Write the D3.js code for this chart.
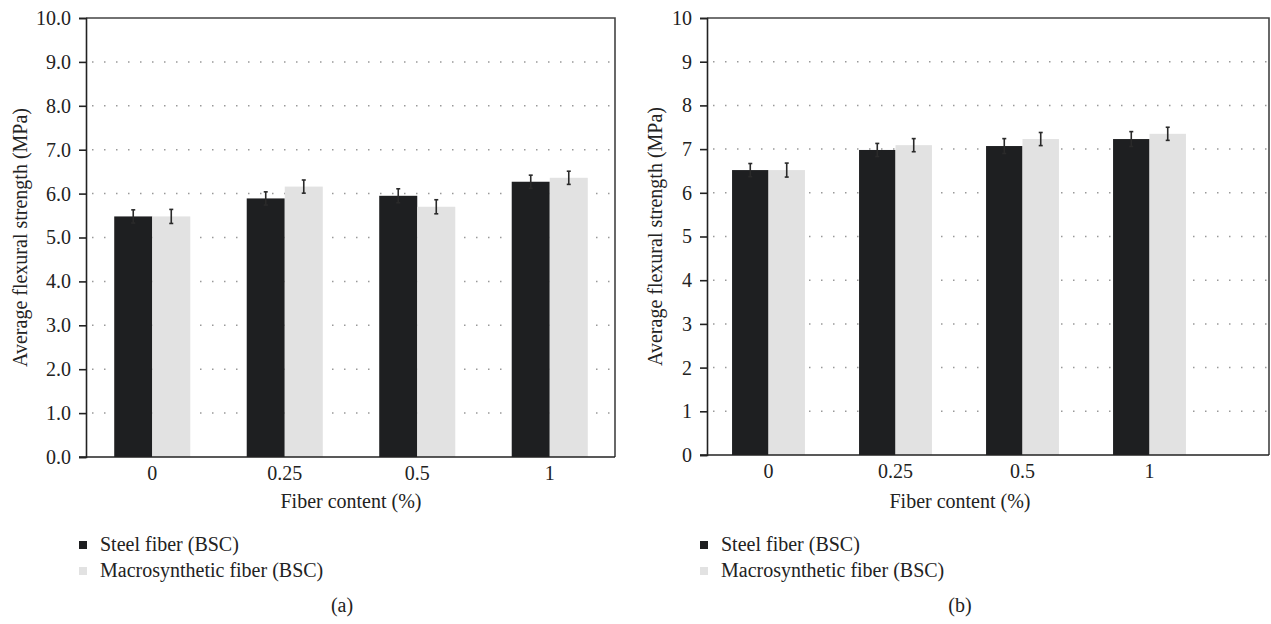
<!DOCTYPE html>
<html>
<head>
<meta charset="utf-8">
<script src="https://cdn.jsdelivr.net/npm/d3@7/dist/d3.min.js"></script>
<style>
  html, body { margin: 0; padding: 0; background: #fff; }
  svg text { font-family: "Liberation Serif", "DejaVu Serif", serif; fill: #222; }
</style>
</head>
<body>
<svg id="chart" width="1271" height="624"></svg>
<script>
// Fiber contents (%) on the x axis
const categories = ["0", "0.25", "0.5", "1"];
const seriesNames = ["Steel fiber (BSC)", "Macrosynthetic fiber (BSC)"];

// Panel (a): average flexural strength (MPa) and standard deviation
const steelA = [5.48, 5.89, 5.95, 6.27];
const steelErrA = [0.15, 0.15, 0.16, 0.15];
const macroA = [5.48, 6.16, 5.70, 6.36];
const macroErrA = [0.16, 0.15, 0.16, 0.15];
const yTicksA = ["0.0", "1.0", "2.0", "3.0", "4.0", "5.0", "6.0", "7.0", "8.0", "9.0", "10.0"];

// Panel (b): average flexural strength (MPa) and standard deviation
const steelB = [6.52, 6.98, 7.07, 7.23];
const steelErrB = [0.15, 0.15, 0.17, 0.17];
const macroB = [6.52, 7.09, 7.23, 7.35];
const macroErrB = [0.16, 0.15, 0.15, 0.15];
const yTicksB = ["0", "1", "2", "3", "4", "5", "6", "7", "8", "9", "10"];

const colors = ["#1e1f21", "#e2e2e2"];
const FS = 20;
const svg = d3.select("#chart");

function drawPanel(cfg) {
  const g = svg.append("g");
  const y = d3.scaleLinear().domain([0, 10]).range([cfg.bottom, cfg.top]);
  const x0 = d3.scaleBand().domain(categories)
    .range([cfg.bandLeft, cfg.bandRight]).paddingInner(0.426).paddingOuter(0.213);
  const x1 = d3.scaleBand().domain([0, 1]).range([0, x0.bandwidth()]);

  // dotted horizontal grid
  g.append("g").selectAll("line").data(d3.range(1, 10)).join("line")
    .attr("x1", cfg.left + 6).attr("x2", cfg.right)
    .attr("y1", d => y(d)).attr("y2", d => y(d))
    .attr("stroke", "#999").attr("stroke-width", 1.5)
    .attr("stroke-dasharray", "1.5,10.5");

  // bars
  const series = [cfg.steel, cfg.macro];
  const errs = [cfg.steelErr, cfg.macroErr];
  categories.forEach((c, i) => {
    series.forEach((s, k) => {
      g.append("rect")
        .attr("x", x0(c) + x1(k)).attr("width", x1.bandwidth())
        .attr("y", y(s[i])).attr("height", y(0) - y(s[i]))
        .attr("fill", colors[k]);
    });
  });
  // error bars
  categories.forEach((c, i) => {
    series.forEach((s, k) => {
      const cx = x0(c) + x1(k) + x1.bandwidth() / 2;
      const hi = y(s[i] + errs[k][i]), lo = y(s[i] - errs[k][i]);
      const eg = g.append("g").attr("stroke", "#2a2a2a").attr("stroke-width", 1.6);
      eg.append("line").attr("x1", cx).attr("x2", cx).attr("y1", hi).attr("y2", lo);
      eg.append("line").attr("x1", cx - 2).attr("x2", cx + 2).attr("y1", hi).attr("y2", hi);
      eg.append("line").attr("x1", cx - 2).attr("x2", cx + 2).attr("y1", lo).attr("y2", lo);
    });
  });

  // frame (top and right)
  g.append("path")
    .attr("d", `M${cfg.left},${cfg.top}H${cfg.right}V${cfg.bottom}`)
    .attr("fill", "none").attr("stroke", "#444").attr("stroke-width", 1.6);

  // y axis
  const yAxis = d3.axisLeft(y).tickValues(d3.range(0, 11))
    .tickFormat((d, i) => cfg.yTicks[i]).tickSize(7).tickPadding(8);
  const ya = g.append("g").attr("transform", `translate(${cfg.left},0)`).call(yAxis);
  ya.select(".domain").attr("stroke", "#222").attr("stroke-width", 1.6);
  ya.selectAll(".tick line").attr("stroke", "#222").attr("stroke-width", 1.6);
  ya.selectAll(".tick text").attr("font-size", FS).attr("fill", "#222")
    .style("font-family", '"Liberation Serif", serif');

  // x axis
  const xAxis = d3.axisBottom(x0).tickSize(0).tickPadding(9);
  const xa = g.append("g").attr("transform", `translate(0,${cfg.bottom})`).call(xAxis);
  xa.select(".domain").attr("d", `M${cfg.left - 7},0H${cfg.right}`)
    .attr("stroke", "#222").attr("stroke-width", 1.6);
  xa.selectAll(".tick text").attr("font-size", FS).attr("fill", "#222")
    .style("font-family", '"Liberation Serif", serif');

  // axis titles
  g.append("text")
    .attr("transform", `translate(${cfg.titleX},${(cfg.top + cfg.bottom) / 2}) rotate(-90)`)
    .attr("text-anchor", "middle").attr("dy", "0.35em").attr("font-size", FS)
    .text("Average flexural strength (MPa)");
  g.append("text")
    .attr("x", (cfg.left + cfg.bandRight) / 2).attr("y", 508)
    .attr("text-anchor", "middle").attr("font-size", FS)
    .text("Fiber content (%)");

  // legend
  const lg = g.append("g");
  seriesNames.forEach((name, k) => {
    const ly = 545 + k * 26;
    lg.append("rect").attr("x", cfg.left - 7).attr("y", ly - 4).attr("width", 8).attr("height", 8)
      .attr("fill", colors[k]);
    lg.append("text").attr("x", cfg.left + 14).attr("y", ly + 6)
      .attr("font-size", FS).text(name);
  });

  // panel label
  g.append("text").attr("x", cfg.labelX).attr("y", 612)
    .attr("text-anchor", "middle").attr("font-size", FS).text(cfg.label);
}

drawPanel({
  left: 86, right: 615, top: 18, bottom: 457,
  bandLeft: 86, bandRight: 616, titleX: 20,
  steel: steelA, steelErr: steelErrA, macro: macroA, macroErr: macroErrA,
  yTicks: yTicksA, label: "(a)", labelX: 342
});
drawPanel({
  left: 707, right: 1269, top: 18, bottom: 455,
  bandLeft: 705, bandRight: 1213, titleX: 655,
  steel: steelB, steelErr: steelErrB, macro: macroB, macroErr: macroErrB,
  yTicks: yTicksB, label: "(b)", labelX: 960
});
</script>
</body>
</html>
